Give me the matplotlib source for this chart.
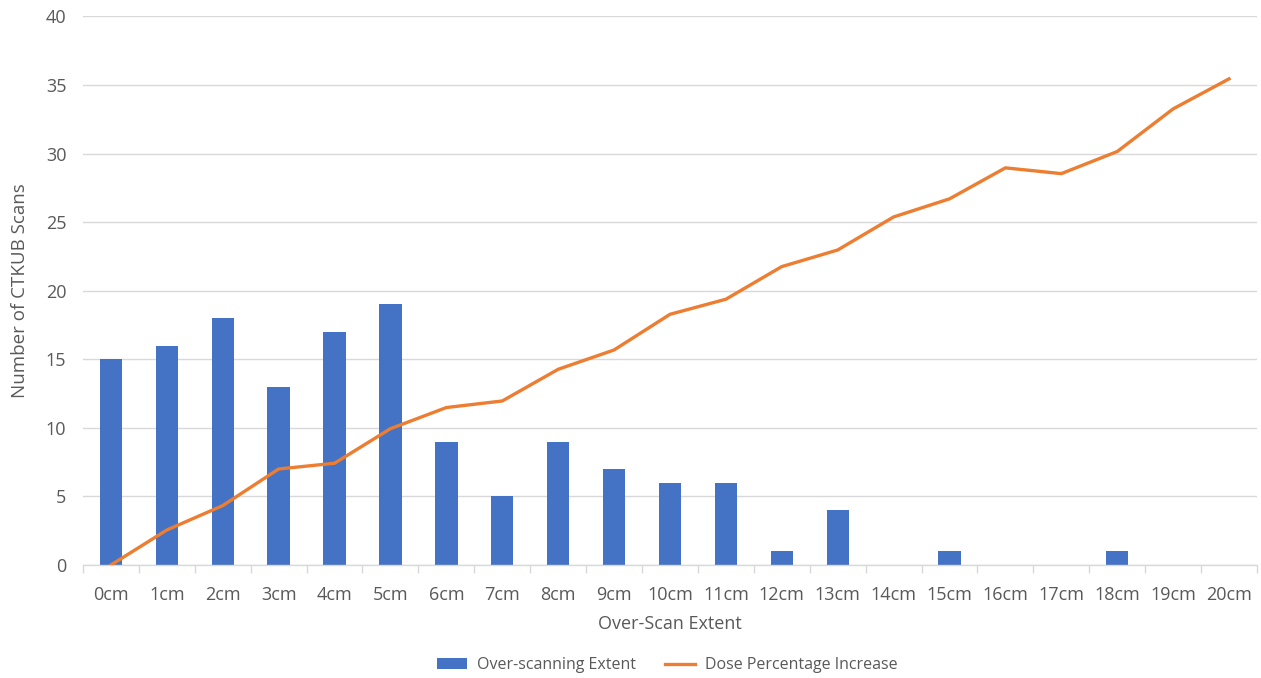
import numpy as np
import matplotlib
matplotlib.use("Agg")
import matplotlib.pyplot as plt

# over-scan extent categories
extents = ["0cm", "1cm", "2cm", "3cm", "4cm", "5cm", "6cm", "7cm", "8cm", "9cm", "10cm",
           "11cm", "12cm", "13cm", "14cm", "15cm", "16cm", "17cm", "18cm", "19cm", "20cm"]

# number of scans per extent
scan_counts = [15, 16, 18, 13, 17, 19, 9, 5, 9, 7, 6, 6, 1, 4, 0, 1, 0, 0, 1, 0, 0]

# dose percentage increase per extent
dose_increase = [0.0, 2.55, 4.33, 7.0, 7.42, 9.94, 11.48, 11.96, 14.27, 15.68, 18.28,
                 19.38, 21.76, 22.97, 25.38, 26.7, 28.96, 28.54, 30.15, 33.26, 35.45]

bar_color = "#4472C4"
line_color = "#ED7D31"
text_color = "#595959"
grid_color = "#D9D9D9"

plt.rcParams['font.family'] = ['Open Sans', 'DejaVu Sans']

fig = plt.figure(figsize=(12.61, 6.78), dpi=100)
ax = fig.add_axes([0.0658, 0.1667, 0.931, 0.809])

x = np.arange(len(extents))
bars = ax.bar(x, scan_counts, width=0.4, color=bar_color, label="Over-scanning Extent", zorder=2)
line, = ax.plot(x, dose_increase, color=line_color, linewidth=2.4, label="Dose Percentage Increase",
                solid_joinstyle="round", zorder=3)

ax.set_xlim(-0.5, len(extents) - 0.5)
ax.set_ylim(0, 40)
ax.set_yticks(np.arange(0, 41, 5))
ax.set_xticks(x)
ax.set_xticklabels(extents)

# gridlines only on y
ax.yaxis.grid(True, color=grid_color, linewidth=1.0, zorder=0)
ax.set_axisbelow(True)
for side in ["top", "right", "left"]:
    ax.spines[side].set_visible(False)
ax.spines["bottom"].set_color(grid_color)
ax.spines["bottom"].set_linewidth(1.0)

# tick marks at category boundaries on x
ax.set_xticks(np.arange(-0.5, len(extents), 1), minor=True)
ax.tick_params(axis="x", which="major", length=0, pad=15, labelsize=13, labelcolor=text_color)
ax.tick_params(axis="x", which="minor", length=6, color=grid_color, width=1.0)
ax.tick_params(axis="y", length=0, pad=12, labelsize=13, labelcolor=text_color)

ax.set_xlabel("Over-Scan Extent", fontsize=13, color=text_color, labelpad=8)
ax.set_ylabel("Number of CTKUB Scans", fontsize=13.5, color=text_color, labelpad=12)

leg = fig.legend([bars, line], ["Over-scanning Extent", "Dose Percentage Increase"],
                 loc="center", bbox_to_anchor=(0.529, 0.019), ncol=2, frameon=False,
                 fontsize=11.5, handlelength=1.9, handleheight=0.7, columnspacing=1.8,
                 handletextpad=0.6)
for t in leg.get_texts():
    t.set_color(text_color)

fig.savefig("out.png", dpi=100)
